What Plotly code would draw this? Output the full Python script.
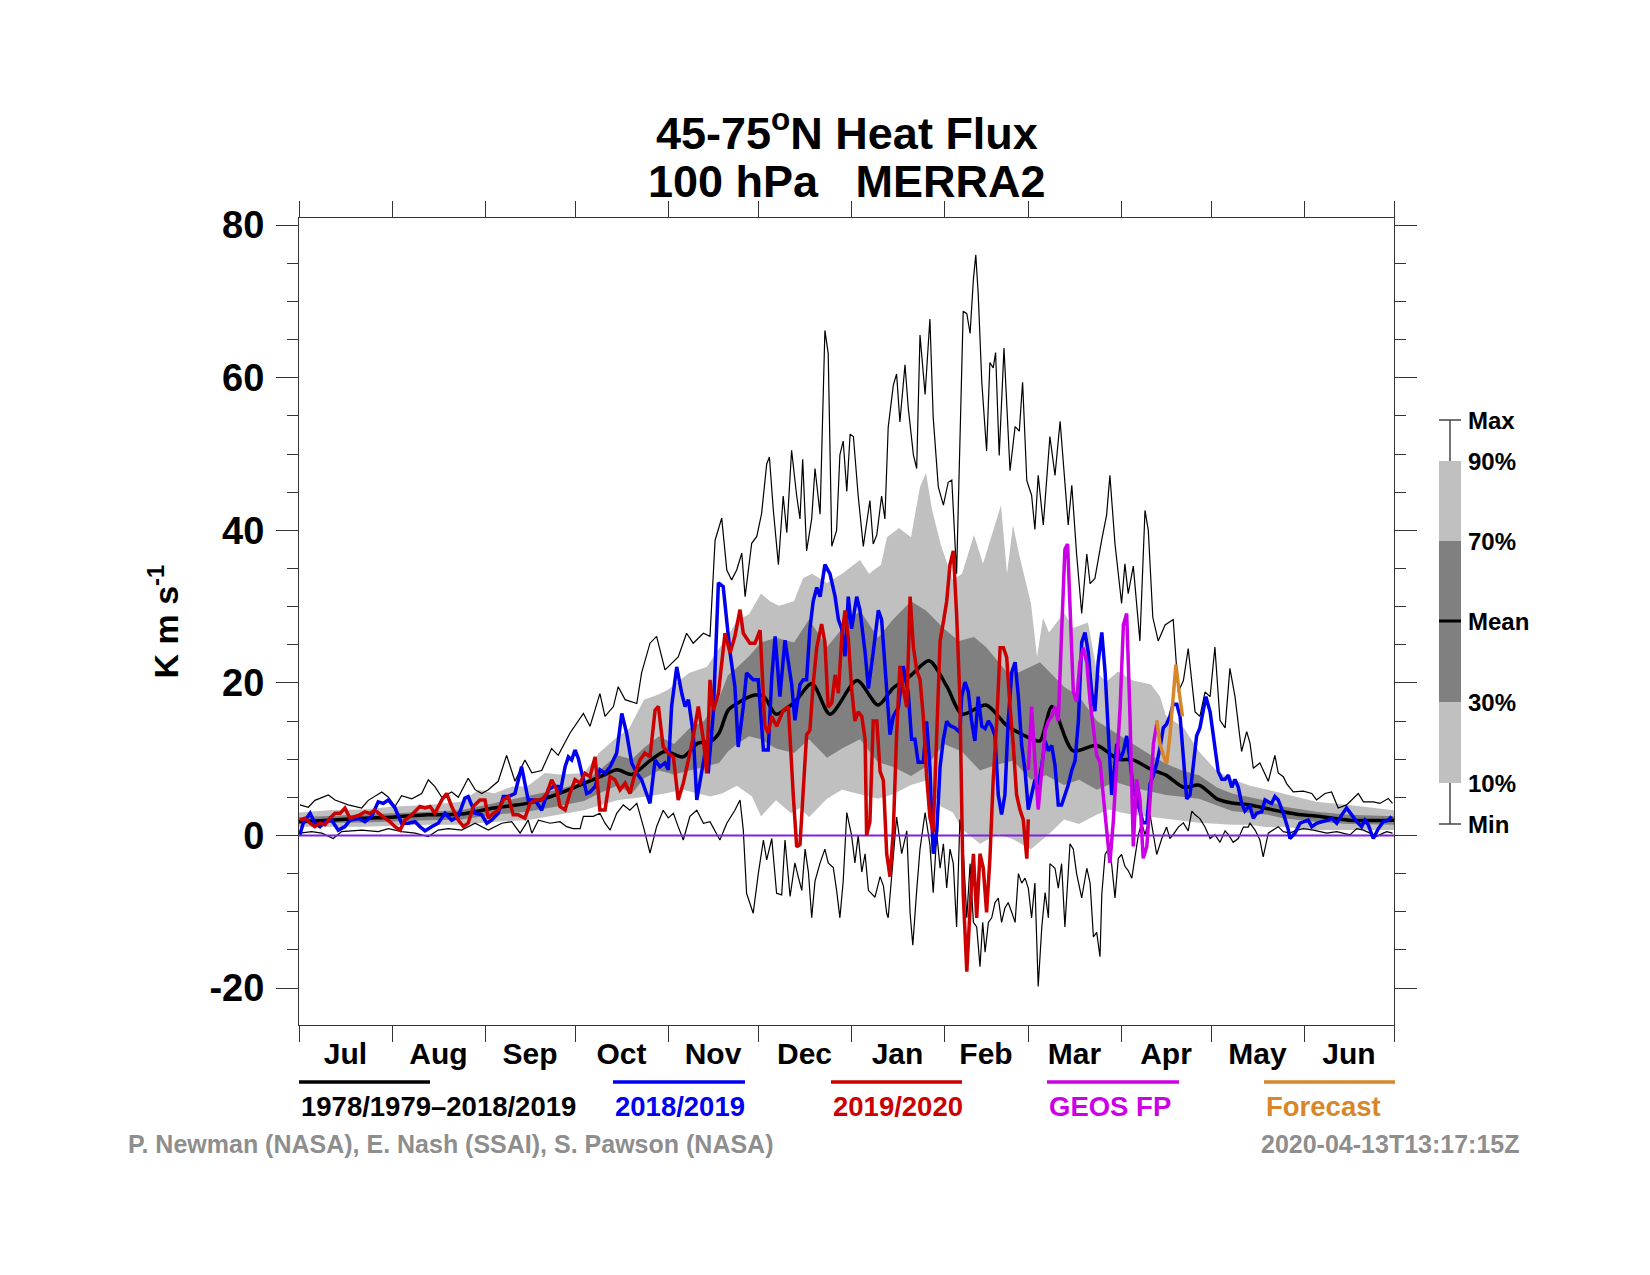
import pandas as pd
import plotly.graph_objects as go

# ---------------- data (day index from 1 July, value in K m/s) ----------------
mean_day = [0, 10, 21, 31, 43, 54, 65, 76, 84, 90, 96, 101, 106, 111, 117, 122, 128, 133, 137, 140,
            143, 146, 152, 155, 159, 165, 171, 177, 186, 193, 198, 204, 210, 216, 221, 229, 236, 244,
            247, 251, 258, 266, 273, 278, 284, 289, 295, 300, 306, 311, 317, 323, 328, 334, 339, 350, 365]
mean_val = [1.8, 2.0, 2.25, 2.4, 2.7, 2.8, 3.6, 4.2, 5.1, 6.0, 7.0, 7.8, 8.6, 8.0, 9.8, 11.0, 10.3, 12.1,
            12.3, 13.4, 16.4, 17.3, 18.4, 18.2, 15.9, 17.4, 19.9, 15.9, 20.3, 17.1, 19.3, 21.0, 22.9, 19.5,
            15.9, 17.1, 14.4, 12.7, 12.4, 16.9, 11.1, 11.8, 10.0, 9.9, 8.65, 7.9, 6.3, 6.6, 4.8, 4.25, 4.0,
            3.5, 3.1, 2.7, 2.55, 2.0, 2.0]

p90_day = [0, 10, 21, 32, 43, 54, 60, 65, 71, 76, 82, 87, 95, 100, 106, 110, 115, 120, 123, 130, 136,
           140, 143, 146, 150, 154, 157, 160, 165, 168, 171, 176, 181, 187, 190, 194, 196, 200, 204, 207,
           209, 211, 214, 218, 221, 225, 228, 234, 236, 238, 240, 244, 246, 248, 250, 255, 258, 263, 266,
           269, 273, 278, 284, 287, 289, 295, 300, 306, 311, 317, 323, 328, 334, 339, 350, 365]
p90_val = [3.0, 3.3, 3.4, 3.8, 4.0, 4.4, 6.0, 5.5, 6.4, 6.4, 8.2, 8.0, 8.2, 10.8, 12.9, 14.0, 17.8, 18.5,
           19.1, 21.3, 22.1, 24.5, 26.1, 28.2, 29.0, 31.7, 30.7, 30.1, 30.7, 33.7, 34.3, 33.1, 34.3, 36.1,
           34.3, 35.5, 39.1, 40.3, 39.1, 45.7, 47.5, 42.7, 38.0, 33.5, 34.3, 39.4, 35.6, 43.3, 34.3, 40.7,
           36.9, 30.4, 23.4, 28.5, 26.6, 29.2, 27.2, 27.9, 21.4, 20.1, 21.5, 20.3, 19.8, 18.2, 15.7, 14.1,
           11.0, 8.4, 7.35, 6.5, 6.0, 5.5, 5.0, 4.4, 4.0, 3.3]

p70_day = [0, 21, 43, 54, 65, 76, 86, 95, 100, 106, 111, 115, 120, 125, 130, 135, 140, 143, 146, 150,
           154, 159, 165, 170, 176, 181, 187, 193, 198, 204, 209, 215, 220, 225, 229, 236, 240, 247, 255,
           260, 266, 272, 278, 284, 289, 295, 300, 306, 311, 317, 323, 328, 339, 350, 365]
p70_val = [2.4, 2.7, 3.1, 3.3, 4.2, 5.1, 6.0, 7.0, 8.5, 10.5, 10.0, 11.5, 13.0, 12.0, 14.0, 15.0, 18.0,
           21.0, 22.0, 23.5, 25.3, 25.9, 25.3, 28.3, 24.7, 27.1, 29.5, 25.9, 28.3, 30.7, 29.5, 27.1, 25.5,
           26.0, 24.7, 21.4, 21.4, 22.7, 19.5, 18.2, 15.0, 13.5, 12.0, 10.5, 9.4, 8.4, 7.9, 6.3, 5.5, 5.0,
           4.5, 3.8, 3.1, 2.7, 2.5]

p30_day = [0, 21, 43, 54, 65, 76, 86, 95, 100, 106, 111, 115, 120, 125, 130, 135, 140, 143, 146, 150,
           154, 159, 165, 170, 176, 181, 187, 193, 198, 204, 209, 215, 221, 227, 232, 238, 244, 249, 255,
           260, 266, 272, 278, 289, 300, 311, 317, 323, 328, 339, 350, 365]
p30_val = [1.6, 1.7, 2.0, 2.1, 2.7, 3.1, 3.8, 4.5, 5.5, 6.5, 5.5, 7.5, 8.5, 8.0, 8.5, 9.0, 9.5, 11.0,
           12.0, 13.0, 12.6, 11.4, 10.8, 12.6, 10.2, 11.4, 12.6, 9.6, 9.0, 7.8, 9.0, 12.0, 11.0, 8.5, 9.2,
           9.8, 7.3, 7.9, 6.6, 7.3, 6.0, 7.0, 6.3, 5.3, 4.8, 3.2, 2.9, 2.7, 2.25, 1.8, 1.5, 1.4]

p10_day = [0, 21, 43, 54, 65, 76, 84, 95, 106, 114, 122, 128, 137, 141, 146, 151, 154, 159, 164, 167,
           170, 176, 181, 187, 193, 198, 204, 209, 214, 218, 221, 227, 233, 238, 244, 250, 255, 260, 266,
           270, 274, 278, 289, 300, 311, 317, 322, 328, 339, 350, 365]
p10_val = [1.15, 1.15, 1.4, 1.4, 1.8, 2.0, 2.6, 3.3, 4.6, 5.0, 5.5, 6.0, 5.1, 5.5, 6.5, 5.1, 2.5, 4.6,
           2.9, 3.6, 2.4, 4.8, 6.0, 5.4, 4.8, 5.4, 6.6, 7.2, 3.8, 3.0, 0.8, -1.1, 0.2, -0.5, -1.8, 0.2, 2.1,
           1.5, 2.75, 3.4, 3.0, 2.7, 2.2, 1.65, 1.4, 1.4, 1.1, 1.15, 0.7, 0.7, 0.7]

max_day = [0.3, 3.1, 5.3, 9.8, 12, 16.4, 20.9, 23.1, 27.6, 29.8, 32, 34.2, 37.6, 40.9, 43.1, 45.3, 47.6,
           50.9, 53.1, 56.4, 58.7, 60.9, 63.1, 66.4, 69.2, 72, 75.3, 77.6, 80.9, 84.2, 86.4, 90.3, 94.8,
           97, 100.3, 102, 104.8, 106.4, 108.7, 112.6, 114.2, 117, 119.2, 122, 126.4, 129.2, 131.4, 134.8,
           137, 138.7, 140.9, 142.6, 144.2, 145.9, 147.6, 148.7, 150.9, 152.6, 154.2, 155.9, 156.8, 158.1,
           159.8, 161.4, 162.6, 164.2, 165.9, 167, 167.9, 169.2, 170.9, 172, 173.7, 175.3, 176.4, 177.6,
           179.2, 180.3, 181.4, 182.6, 183.7, 184.8, 186.4, 188.1, 190.3, 191.4, 192.6, 194.2, 195.3,
           196.4, 198.1, 199.2, 200.3, 202, 203.1, 204.8, 205.9, 207, 208.7, 210.3, 211.4, 213.1, 214.8,
           216.4, 217.6, 219.2, 221.4, 222.6, 223.7, 224.8, 225.6, 226.4, 227.6, 229.2, 230.3, 231.4,
           232.2, 233.4, 235, 237, 238.7, 240.1, 241.2, 242.6, 244.2, 245.3, 246.4, 248.1, 250.3, 252,
           253.7, 255.3, 256.4, 257.6, 259.2, 260.9, 262.6, 263.7, 265.3, 267.6, 269.2, 270.3, 272, 274.2,
           275.3, 276.4, 278.1, 280.3, 282, 283.1, 284.6, 286.4, 288.7, 291.4, 293.1, 294.8, 296.4, 298.7,
           300.3, 302, 303.7, 305.3, 307, 308.7, 310.3, 312, 314.2, 315.9, 317, 318.1, 320.3, 323.1, 325.3,
           326.4, 328.1, 329.2, 331.4, 334.8, 337.6, 339.2, 342, 344.2, 346.4, 349.2, 353.1, 354.8, 358.1,
           360.3, 363.1, 364.5]
max_val = [4.0, 3.7, 4.6, 5.3, 4.65, 4.0, 3.6, 4.6, 5.7, 5.0, 3.8, 5.2, 4.8, 5.5, 7.3, 6.4, 5.0, 5.7,
           5.0, 7.5, 6.0, 5.5, 6.0, 7.1, 10.5, 7.1, 9.9, 8.2, 8.5, 11.4, 10.5, 13.4, 16.0, 14.3, 18.6,
           15.6, 16.9, 19.5, 17.8, 17.3, 21.3, 25.2, 26.1, 21.7, 23.4, 26.5, 25.2, 26.5, 26.1, 38.7, 41.6,
           34.8, 33.5, 34.8, 37.0, 31.3, 38.3, 39.2, 42.2, 48.7, 49.6, 42.7, 35.5, 44.5, 39.7, 50.5, 44.5,
           41.5, 49.3, 37.3, 41.5, 48.1, 42.1, 66.2, 63.2, 37.9, 40.0, 49.9, 51.7, 45.1, 52.6, 52.3, 44.5,
           37.9, 43.9, 38.2, 39.4, 44.5, 41.5, 53.5, 59.0, 60.5, 54.2, 61.7, 56.0, 49.9, 48.1, 65.6, 57.8,
           67.7, 54.8, 45.7, 43.3, 46.3, 46.6, 34.3, 68.7, 68.4, 65.8, 72.9, 76.1, 71.0, 59.4, 50.4, 62.0,
           61.3, 63.3, 49.8, 63.9, 47.8, 53.6, 53.0, 59.4, 46.5, 44.6, 40.1, 47.2, 40.7, 52.3, 47.2, 54.3,
           45.9, 40.7, 45.9, 36.9, 29.1, 36.9, 33.0, 33.7, 38.8, 42.0, 47.2, 38.2, 30.4, 35.6, 31.7, 35.3,
           25.5, 42.6, 40.0, 28.6, 25.5, 27.6, 28.3, 18.8, 20.3, 24.5, 16.2, 15.6, 18.8, 18.2, 24.7, 15.1,
           14.1, 21.9, 18.2, 11.0, 13.6, 12.1, 8.8, 9.5, 7.1, 10.5, 8.2, 7.7, 6.8, 5.7, 5.8, 5.5, 4.65,
           5.5, 5.7, 3.6, 4.0, 5.5, 4.4, 4.4, 4.2, 4.85, 4.2]

min_day = [0.3, 4.2, 7.6, 11.4, 14.2, 20.9, 26.4, 29.8, 34.2, 38.7, 43.1, 46.4, 49.8, 54.2, 58.7, 63.1,
           67.6, 70.9, 73.7, 76.4, 77.6, 79.8, 83.7, 87, 89.2, 91.4, 93.7, 94.8, 98.1, 100.3, 102, 103.7,
           105.9, 108.1, 110.3, 112.6, 114.8, 117, 119.2, 121.4, 123.1, 124.8, 126.4, 128.1, 130.3, 132.6,
           134.8, 137, 140.3, 142.6, 145.3, 147, 148.1, 149.2, 151.4, 153.1, 154.8, 155.9, 157.6, 159.2,
           160.9, 162, 163.7, 165.3, 166.4, 167.6, 168.7, 169.8, 170.9, 172, 173.7, 175.3, 176.4, 178.1,
           179.2, 180.3, 181.4, 182.6, 184.2, 185.3, 186.4, 187.6, 188.7, 189.8, 192, 193.7, 194.8, 195.9,
           196.4, 197.6, 199.2, 200.9, 202.6, 203.7, 204.6, 205.9, 207, 208.7, 210.3, 211.4, 212.6, 213.7,
           214.8, 215.9, 217, 218.1, 219.2, 220.3, 221.4, 222.6, 223.7, 224.8, 225.9, 227, 227.9, 228.7,
           229.8, 230.9, 232, 233.1, 234.2, 235.3, 236.4, 237.6, 238.7, 239.8, 240.9, 242, 243.1, 244.2,
           245.3, 246.4, 247.6, 248.7, 249.8, 250.3, 252, 253.1, 254.2, 255.3, 257, 258.1, 259.2, 260.9,
           262.6, 263.7, 264.8, 265.9, 267, 267.6, 268.7, 270.3, 272, 273.1, 274.2, 275.3, 276.4, 277.6,
           278.7, 279.8, 280.9, 282, 283.7, 284.8, 285.9, 287.6, 289.2, 290.3, 291.4, 293.1, 294.8, 296.4,
           297.6, 298.7, 300.3, 302, 303.7, 305.3, 307, 308.7, 309.8, 311.4, 313.1, 314.8, 316.4, 317,
           318.7, 320.3, 321.4, 323.1, 324.8, 326.4, 328.1, 330.3, 332.6, 334.8, 338.1, 340.3, 342.6,
           345.9, 348.1, 350.3, 352.6, 354.8, 357, 359.2, 361.4, 362.6, 364.5]
min_val = [0.3, 0.5, 0.3, -0.4, 0.5, 0.7, 0.5, 0.9, 0.5, 0.3, -0.15, 0.7, 0.9, 0.7, 1.6, 0.7, 1.6, 1.8,
           0.3, 2.0, 0.3, 2.0, 1.6, 1.8, 1.15, 0.9, 0.9, 2.5, 2.5, 2.9, 1.6, 0.7, 2.9, 4.0, 3.3, 4.2, 1.15,
           -2.3, 1.15, 3.3, 2.3, 2.9, 1.15, -0.6, 2.5, 3.3, 1.6, 1.8, -0.6, 1.6, 3.3, 4.65, 0.7, -7.6,
           -10.2, -5.0, -0.6, -3.2, -0.4, -7.6, -7.8, -0.6, -8.0, -3.6, -5.4, -7.2, -1.8, -4.8, -10.8,
           -6.0, -3.6, -1.8, -3.6, -4.2, -7.2, -10.8, -6.0, 3.0, 0.0, -3.6, 0.0, -4.8, -2.4, -7.2, -8.1,
           -5.4, -6.6, -10.2, -10.8, -4.8, 2.4, -2.4, 0.6, -10.2, -14.4, -7.2, -1.8, 3.0, -1.2, -7.5, 0.2,
           -4.3, -1.1, -6.9, -1.8, -3.7, -12.0, 2.1, -1.8, -10.8, -3.7, -11.4, -12.0, -17.2, -11.4, -15.3,
           -11.4, -10.8, -8.8, -8.2, -11.4, -9.5, -8.8, -10.1, -11.4, -5.0, -6.25, -5.6, -6.9, -10.8,
           -6.25, -19.8, -12.0, -7.5, -10.8, -3.7, -4.3, -6.9, -3.7, -12.0, -1.1, -1.8, -5.0, -8.2, -4.3,
           -6.25, -13.3, -12.7, -15.9, -7.7, -2.5, -1.45, -8.2, -3.0, -2.5, -4.05, -4.6, -5.6, -2.5, 0.1,
           1.65, 0.1, 2.7, 0.1, -2.5, -0.4, 1.1, -0.4, 0.1, 1.1, 1.65, 0.6, 3.2, 2.7, 2.2, 1.1, -0.4, 0.1,
           -0.9, 0.6, 0.1, -0.9, -0.4, 1.1, 1.1, 1.6, 0.7, -0.6, -2.8, 0.3, 0.7, 1.15, 0.5, 0.3, 0.7, 0.9,
           0.7, 0.5, 0.3, 0.5, 0.3, 0.07, 0.9, 0.7, 0.3, -0.15, 0.3, 0.5, 0.3]

blue_day = [0.3, 1.4, 3.7, 5.3, 7.0, 8.7, 10.9, 13.1, 15.3, 17.0, 19.8, 22.0, 24.2, 26.4, 28.1, 29.8,
            32.0, 34.2, 36.4, 38.7, 40.3, 42.0, 44.2, 46.4, 48.7, 50.9, 53.1, 55.3, 56.4, 58.7, 60.9, 62.6,
            64.2, 66.4, 68.1, 69.8, 72.0, 74.2, 76.4, 78.7, 80.9, 83.1, 84.8, 86.4, 87.0, 88.7, 89.8, 90.9,
            92.0, 93.1, 94.8, 95.9, 97.0, 98.7, 100.3, 102.0, 103.7, 105.9, 107.6, 109.2, 110.9, 112.6,
            114.2, 115.9, 117.0, 118.7, 120.3, 122.0, 123.1, 124.2, 125.9, 127.6, 128.7, 129.8, 131.4,
            132.6, 134.2, 135.9, 136.4, 138.1, 139.8, 141.4, 143.7, 145.3, 146.4, 148.1, 149.2, 151.4,
            153.1, 154.8, 156.4, 157.6, 158.7, 160.3, 162.0, 164.2, 165.3, 165.9, 167.0, 168.1, 169.2,
            170.3, 171.4, 172.6, 173.7, 175.3, 177.0, 178.7, 179.8, 180.9, 182.0, 183.1, 184.2, 185.9,
            187.0, 188.7, 189.8, 191.4, 193.1, 194.2, 195.9, 197.0, 198.1, 199.8, 201.4, 203.1, 204.2,
            205.3, 206.4, 208.1, 209.2, 210.3, 211.4, 212.6, 213.7, 214.8, 215.9, 217.0, 218.7, 220.3,
            220.9, 222.0, 223.1, 224.2, 225.3, 226.4, 227.6, 228.7, 229.8, 230.9, 232.0, 233.1, 234.2,
            235.3, 236.4, 237.6, 238.7, 239.8, 240.9, 242.0, 243.1, 244.2, 245.3, 246.4, 247.6, 248.7,
            249.8, 250.9, 252.0, 253.1, 254.2, 255.3, 256.4, 257.6, 258.7, 259.8, 260.9, 262.0, 263.1,
            264.2, 265.3, 266.4, 267.6, 268.7, 269.8, 270.9, 272.6, 273.7, 274.8, 275.9, 277.0, 278.1,
            279.2, 280.3, 281.4, 282.6, 283.7, 284.8, 285.9, 287.0, 288.1, 289.2, 290.3, 291.4, 292.6,
            293.7, 294.8, 295.9, 297.0, 298.1, 299.2, 300.3, 301.4, 302.3, 303.7, 305.3, 306.4, 307.6,
            308.7, 309.8, 310.9, 312.0, 313.1, 314.2, 315.3, 316.4, 317.0, 318.1, 319.2, 320.9, 322.0,
            323.1, 324.2, 325.3, 326.4, 328.1, 329.8, 330.3, 332.0, 333.7, 335.3, 336.4, 337.6, 339.2,
            340.9, 343.1, 344.2, 345.9, 347.6, 349.2, 350.9, 352.6, 354.2, 355.3, 356.4, 358.1, 359.8,
            361.4, 363.1, 364.2]
blue_val = [0.1, 1.6, 2.9, 1.6, 1.15, 1.8, 2.0, 0.7, 1.15, 2.0, 2.25, 1.8, 2.5, 4.4, 4.2, 4.65, 3.6,
            1.6, 1.6, 1.8, 1.15, 0.6, 1.15, 1.6, 2.9, 2.0, 2.5, 4.9, 5.1, 2.9, 2.7, 1.6, 2.0, 2.9, 5.1,
            5.1, 5.5, 9.0, 4.65, 4.65, 3.3, 6.0, 6.4, 6.4, 5.5, 9.0, 10.3, 9.9, 11.2, 10.1, 7.3, 5.5, 5.7,
            6.4, 8.6, 8.15, 9.0, 10.8, 16.0, 13.4, 9.5, 8.15, 7.3, 5.5, 4.2, 9.9, 9.0, 9.5, 8.6, 16.9,
            22.1, 18.6, 16.9, 17.8, 13.4, 4.65, 8.6, 12.1, 8.15, 16.0, 33.1, 32.6, 23.9, 19.5, 11.6, 16.9,
            21.3, 20.4, 20.4, 11.2, 11.2, 20.8, 26.1, 18.2, 25.6, 19.9, 15.1, 16.8, 19.8, 20.4, 20.4, 27.1,
            30.7, 32.5, 31.3, 35.5, 34.3, 31.3, 28.3, 27.1, 23.5, 31.3, 27.1, 31.3, 29.5, 24.0, 19.25,
            24.0, 29.5, 28.3, 18.65, 13.2, 15.6, 16.8, 22.2, 18.65, 12.6, 12.6, 9.6, 9.6, 14.95, 9.0, -2.4,
            0.6, 9.0, 12.6, 14.95, 14.4, 14.1, 13.5, 18.2, 20.1, 18.85, 15.0, 12.4, 18.2, 14.3, 14.0,
            15.0, 14.3, 13.05, 5.3, 2.75, 5.3, 15.0, 21.4, 22.7, 18.2, 11.8, 8.55, 3.4, 5.3, 7.3, 6.6,
            9.2, 12.4, 11.1, 11.8, 9.2, 4.0, 4.0, 5.3, 6.6, 8.55, 9.8, 15.0, 25.3, 26.6, 24.0, 18.85,
            16.3, 22.7, 26.6, 21.4, 13.05, 5.3, 12.0, 9.9, 11.0, 13.05, 9.9, 5.8, 4.8, 3.2, 1.65, 1.65,
            6.8, 7.9, 9.4, 11.5, 14.1, 14.6, 15.6, 17.2, 17.2, 15.6, 9.9, 4.8, 5.3, 8.9, 13.05, 14.1,
            16.7, 18.2, 16.2, 12.0, 8.4, 7.35, 7.35, 7.9, 6.3, 7.35, 6.3, 4.25, 3.2, 3.7, 3.8, 2.25, 2.9,
            3.1, 4.65, 4.4, 4.2, 5.1, 4.65, 2.9, 0.7, -0.4, 0.3, 1.6, 1.8, 2.0, 1.15, 1.6, 1.8, 2.0, 2.25,
            1.6, 2.7, 3.6, 2.7, 1.8, 1.15, 2.0, 1.4, -0.4, 0.9, 1.8, 2.0, 2.5]

red_day = [0.3, 2.0, 3.7, 5.3, 7.0, 8.7, 10.3, 12.0, 13.7, 15.3, 17.0, 18.7, 20.3, 22.0, 23.7, 25.3,
           27.0, 28.7, 30.3, 32.0, 33.7, 35.3, 37.0, 38.7, 40.3, 42.0, 43.7, 45.3, 47.6, 49.2, 50.9, 53.1,
           54.8, 56.4, 58.1, 60.3, 62.0, 63.1, 64.8, 66.4, 68.1, 69.8, 71.4, 73.1, 75.3, 77.0, 78.7, 80.9,
           82.6, 84.2, 85.9, 87.0, 88.7, 90.3, 92.0, 93.7, 95.3, 97.0, 98.7, 100.3, 102.0, 103.7, 105.3,
           107.0, 108.7, 110.3, 112.0, 113.7, 115.3, 117.0, 118.7, 119.8, 121.4, 123.1, 124.8, 126.4,
           128.1, 129.8, 131.4, 133.1, 134.8, 135.9, 137.0, 138.1, 139.8, 142.0, 143.7, 145.3, 147.0,
           148.1, 150.3, 152.0, 153.7, 155.3, 156.4, 157.6, 159.2, 161.4, 163.1, 164.8, 165.9, 167.0,
           168.1, 169.2, 170.3, 171.4, 172.6, 174.2, 175.3, 176.4, 177.6, 178.7, 179.8, 180.9, 182.0,
           183.1, 184.2, 185.3, 186.4, 187.6, 188.7, 189.2, 190.3, 191.4, 192.6, 193.7, 194.8, 195.9,
           197.0, 198.1, 199.2, 200.3, 201.4, 202.6, 203.7, 204.8, 205.9, 207.0, 208.1, 209.2, 210.3,
           211.4, 212.6, 213.7, 214.8, 215.9, 217.0, 218.1, 219.2, 220.3, 221.4, 222.6, 223.7, 224.8,
           225.9, 227.0, 228.1, 229.2, 230.3, 231.4, 232.6, 233.7, 234.8, 235.9, 237.0, 238.1, 239.2,
           240.3, 241.4, 242.6, 243.1]
red_val = [2.0, 2.25, 1.6, 1.15, 1.6, 1.4, 2.25, 2.9, 2.9, 3.6, 2.25, 2.5, 2.7, 3.1, 2.9, 3.3, 2.7,
           2.25, 1.8, 1.15, 0.7, 2.0, 2.5, 3.1, 3.8, 3.6, 3.8, 2.9, 4.65, 5.5, 3.8, 2.0, 1.15, 1.6, 3.8,
           4.65, 4.65, 2.25, 2.9, 3.3, 4.65, 5.1, 2.7, 2.7, 2.25, 4.2, 4.65, 4.65, 5.5, 7.3, 6.0, 3.8,
           3.35, 5.5, 7.3, 6.85, 8.15, 7.7, 10.3, 3.35, 3.35, 7.7, 7.3, 5.96, 6.85, 5.5, 8.15, 9.9, 10.8,
           10.3, 16.4, 16.9, 11.6, 10.8, 10.3, 4.65, 6.85, 9.9, 12.9, 16.9, 12.5, 8.15, 20.4, 16.4, 18.6,
           26.5, 23.9, 26.1, 29.6, 26.5, 25.2, 25.2, 26.9, 14.3, 13.4, 15.6, 14.3, 16.4, 16.9, 5.0, -1.5,
           -1.2, 6.6, 13.2, 13.8, 19.85, 24.7, 27.7, 25.3, 16.8, 17.4, 21.05, 18.65, 25.9, 29.5, 25.9,
           19.25, 15.0, 16.2, 15.6, 12.6, 0.0, 1.8, 15.0, 15.0, 8.4, 7.2, -2.4, -5.4, 0.6, 13.2, 22.25,
           19.25, 16.8, 31.3, 24.7, 21.65, 20.45, 15.6, 7.8, 2.4, 0.4, 13.5, 25.5, 28.0, 30.7, 35.5, 37.3,
           29.0, 18.0, -7.55, -17.85, -9.5, -2.4, -10.8, -2.4, -4.3, -10.1, -3.05, 7.3, 15.0, 24.6, 24.6,
           23.35, 16.9, 11.8, 5.3, 3.4, 2.1, -3.05, 2.1]

geos_day = [243.1, 244.2, 245.3, 246.4, 247.6, 248.7, 249.8, 250.9, 252.0, 253.1, 254.2, 255.3, 256.2,
            257.0, 258.1, 259.2, 260.3, 261.4, 262.6, 263.7, 264.8, 265.9, 267.0, 268.1, 269.2, 270.3,
            271.4, 272.6, 273.7, 274.8, 275.9, 277.0, 278.1, 279.2, 280.3, 281.4, 282.6, 283.7, 284.8,
            285.9]
geos_val = [8.55, 16.9, 9.8, 3.4, 8.55, 13.7, 15.0, 15.6, 16.9, 15.0, 26.6, 37.5, 38.2, 30.4, 18.85,
            17.55, 22.7, 24.6, 22.7, 17.55, 14.3, 10.5, 9.6, 4.8, 0.1, -3.6, 1.65, 9.95, 16.7, 27.6, 29.1,
            15.6, -1.45, 7.35, 4.8, -3.0, -1.45, 4.8, 12.0, 14.6]

fcst_day = [285.9, 287.0, 288.1, 289.2, 290.3, 291.4, 292.3, 293.4, 294.5]
fcst_val = [15.1, 12.0, 10.5, 9.4, 13.05, 17.7, 22.4, 18.75, 15.6]

y_ticks = [-20, 0, 20, 40, 60, 80]
y_tick_text = ["-20", "0", "20", "40", "60", "80"]
month_start = "2018-07-01"   # reference year only used for month tick positions
n_days = 365

# ---------------- styling ----------------
FONT = "Liberation Sans, Arial, Helvetica, sans-serif"
LIGHT = "#c0c0c0"
DARK = "#808080"
BLUE = "#0000f0"
RED = "#cc0000"
MAGENTA = "#cc00e6"
ORANGE = "#d7862a"
ZERO = "#8020e0"
AXC = "#333333"

base = pd.Timestamp(month_start)


def dates(days):
    return list(base + pd.to_timedelta(days, unit="D"))


fig = go.Figure()

fig.add_trace(go.Scatter(x=dates(p90_day) + dates(p10_day)[::-1], y=p90_val + p10_val[::-1],
                         fill="toself", fillcolor=LIGHT, line=dict(width=0), mode="lines",
                         hoverinfo="skip"))
fig.add_trace(go.Scatter(x=dates(p70_day) + dates(p30_day)[::-1], y=p70_val + p30_val[::-1],
                         fill="toself", fillcolor=DARK, line=dict(width=0), mode="lines",
                         hoverinfo="skip"))
fig.add_trace(go.Scatter(x=dates(max_day), y=max_val, mode="lines",
                         line=dict(color="black", width=1.2)))
fig.add_trace(go.Scatter(x=dates(min_day), y=min_val, mode="lines",
                         line=dict(color="black", width=1.2)))
fig.add_trace(go.Scatter(x=dates([0, n_days]), y=[0, 0], mode="lines",
                         line=dict(color=ZERO, width=2)))
fig.add_trace(go.Scatter(x=dates(mean_day), y=mean_val, mode="lines",
                         line=dict(color="black", width=3.5, shape="spline", smoothing=0.8)))
fig.add_trace(go.Scatter(x=dates(blue_day), y=blue_val, mode="lines",
                         line=dict(color=BLUE, width=3.5)))
fig.add_trace(go.Scatter(x=dates(red_day), y=red_val, mode="lines",
                         line=dict(color=RED, width=3.5)))
fig.add_trace(go.Scatter(x=dates(geos_day), y=geos_val, mode="lines",
                         line=dict(color=MAGENTA, width=3.5)))
fig.add_trace(go.Scatter(x=dates(fcst_day), y=fcst_val, mode="lines",
                         line=dict(color=ORANGE, width=3.5)))

# ---------------- layout geometry (page pixels -> paper) ----------------
PAGE_W, PAGE_H, BODY = 1650, 1275, 8          # browser body margin
L, R, T, B = 299, 1394, 218, 1025              # plot frame in page pixels
W, H = R - L, B - T


def xp(px):
    return (px - L) / W


def yp(py):
    return (B - py) / H


annotations = []
shapes = []

# title: two lines, spaced just enough that their text boxes do not overlap
TITLE_FONT = dict(family=FONT, size=45, color="black", weight="bold")
annotations.append(dict(text="45-75<sup>o</sup>N Heat Flux", x=0.5, y=yp(129.5), xref="paper",
                        yref="paper", xanchor="center", yanchor="middle", showarrow=False,
                        font=TITLE_FONT))
annotations.append(dict(text="100 hPa\u00a0\u00a0\u00a0MERRA2", x=0.5, y=yp(181.5), xref="paper",
                        yref="paper", xanchor="center", yanchor="middle", showarrow=False,
                        font=TITLE_FONT))
# y-axis title
annotations.append(dict(text="K m s<sup>-1</sup>", x=xp(163), y=0.5, xref="paper", yref="paper",
                        xanchor="center", yanchor="middle", textangle=-90, showarrow=False,
                        font=dict(family=FONT, size=34, color="black", weight="bold")))

# bottom legend
leg_items = [("1978/1979\u20132018/2019", "black", 299, 430),
             ("2018/2019", BLUE, 613, 745),
             ("2019/2020", RED, 831, 962),
             ("GEOS FP", MAGENTA, 1047, 1179),
             ("Forecast", ORANGE, 1264, 1395)]
for label, col, x0, x1 in leg_items:
    shapes.append(dict(type="line", xref="paper", yref="paper", x0=xp(x0), x1=xp(x1),
                       y0=yp(1082), y1=yp(1082), line=dict(color=col, width=3.5)))
    annotations.append(dict(text=label, x=xp(x0), y=yp(1106), xref="paper", yref="paper",
                            xanchor="left", yanchor="middle", showarrow=False,
                            font=dict(family=FONT, size=27.5, color=col, weight="bold")))

# footer
annotations.append(dict(text="P. Newman (NASA), E. Nash (SSAI), S. Pawson (NASA)", x=xp(126), y=yp(1144),
                        xref="paper", yref="paper", xanchor="left", yanchor="middle", showarrow=False,
                        font=dict(family=FONT, size=25, color="#8e8e8e", weight="bold")))
annotations.append(dict(text="2020-04-13T13:17:15Z", x=xp(1522), y=yp(1144),
                        xref="paper", yref="paper", xanchor="right", yanchor="middle", showarrow=False,
                        font=dict(family=FONT, size=25, color="#8e8e8e", weight="bold")))

# right-hand key
bx0, bx1, bxc = xp(1439), xp(1461), xp(1450)
lev = {"Max": 420, "90%": 461, "70%": 541, "Mean": 621, "30%": 702, "10%": 783, "Min": 824}
shapes.append(dict(type="rect", xref="paper", yref="paper", x0=bx0, x1=bx1,
                   y0=yp(lev["10%"]), y1=yp(lev["90%"]), fillcolor=LIGHT, line=dict(width=0)))
shapes.append(dict(type="rect", xref="paper", yref="paper", x0=bx0, x1=bx1,
                   y0=yp(lev["30%"]), y1=yp(lev["70%"]), fillcolor=DARK, line=dict(width=0)))
shapes.append(dict(type="line", xref="paper", yref="paper", x0=bx0, x1=bx1,
                   y0=yp(lev["Mean"]), y1=yp(lev["Mean"]), line=dict(color="black", width=3)))
for a, b in (("Max", "90%"), ("10%", "Min")):
    shapes.append(dict(type="line", xref="paper", yref="paper", x0=bxc, x1=bxc,
                       y0=yp(lev[a]), y1=yp(lev[b]), line=dict(color="#444444", width=1.5)))
for k in ("Max", "Min"):
    shapes.append(dict(type="line", xref="paper", yref="paper", x0=bx0, x1=bx1,
                       y0=yp(lev[k]), y1=yp(lev[k]), line=dict(color="#444444", width=1.5)))
for k, v in lev.items():
    annotations.append(dict(text=k, x=xp(1466), y=yp(v), xref="paper", yref="paper",
                            xanchor="left", yanchor="middle", showarrow=False,
                            font=dict(family=FONT, size=24, color="black", weight="bold")))

fig.update_layout(
    width=PAGE_W - 2 * BODY, height=PAGE_H - 2 * BODY,
    margin=dict(l=L - BODY, r=PAGE_W - BODY - R, t=T - BODY, b=PAGE_H - BODY - B),
    paper_bgcolor="white", plot_bgcolor="white",
    showlegend=False,
    annotations=annotations, shapes=shapes,
    xaxis=dict(type="date", range=dates([0, n_days]), tick0=month_start, dtick="M1",
               ticklabelmode="period", tickformat="%b", ticks="outside", ticklen=16,
               tickwidth=1.2, tickcolor=AXC, showline=True, linecolor=AXC, linewidth=1.2,
               mirror="ticks", showgrid=False, zeroline=False, ticklabelstandoff=-14,
               tickfont=dict(family=FONT, size=30, color="black", weight="bold")),
    yaxis=dict(range=[-24.85, 80.94], tickvals=y_ticks, ticktext=y_tick_text, ticks="outside",
               ticklen=22, tickwidth=1.2, tickcolor=AXC, showline=True, linecolor=AXC,
               linewidth=1.2, mirror="ticks", showgrid=False, zeroline=False, ticklabelstandoff=4,
               minor=dict(dtick=5, tick0=0, ticks="outside", ticklen=11, tickwidth=1.2,
                          tickcolor=AXC, showgrid=False),
               tickfont=dict(family=FONT, size=38, color="black", weight="bold")),
)

fig.write_html("out.html")
